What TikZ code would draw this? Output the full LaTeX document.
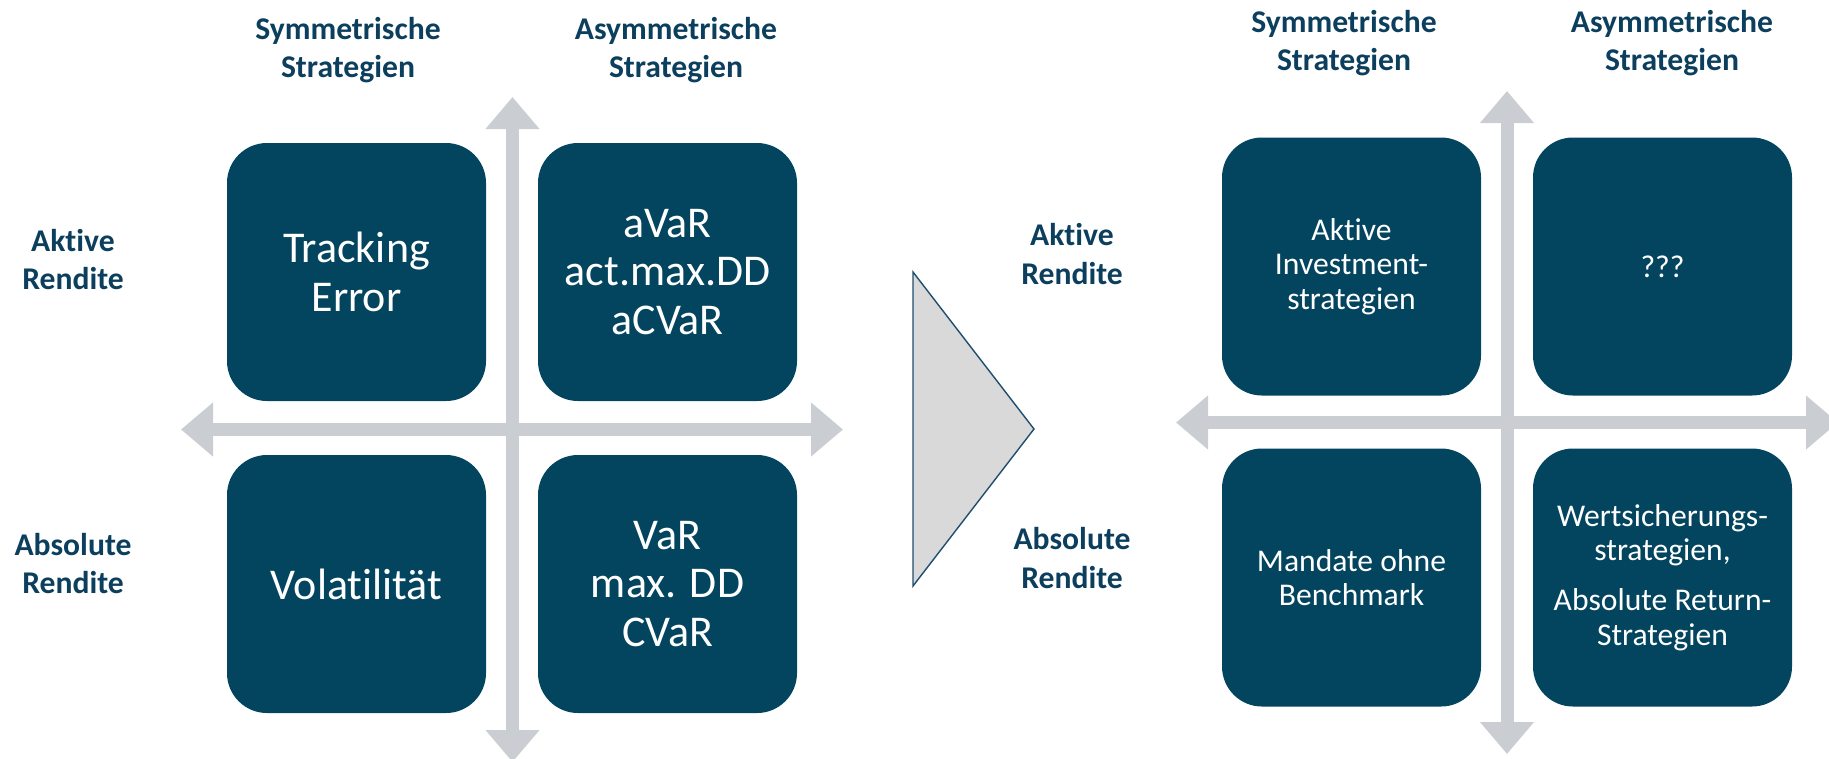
\documentclass[tikz,border=0pt]{standalone}
\usepackage{fontspec}
\setmainfont{Carlito}[RawFeature={-liga;-calt;-clig}]
\usetikzlibrary{arrows.meta}
\definecolor{boxblue}{HTML}{03445F}
\definecolor{labelblue}{HTML}{0C3F5D}
\definecolor{axisgray}{HTML}{CACDD2}
\definecolor{wedgegray}{HTML}{D9D9D9}
\definecolor{wedgeline}{HTML}{1F4E6E}
\tikzset{
  quad/.style={fill=boxblue, rounded corners=8mm, minimum width=51.8mm,
    minimum height=51.6mm, inner sep=0pt, text=white, align=center},
  bigtext/.style={font=\fontsize{25}{27.5}\selectfont},
  smalltext/.style={font=\fontsize{18}{19.5}\selectfont},
  heading/.style={text=labelblue, align=center, inner sep=0pt,
    font=\bfseries\fontsize{18}{22}\selectfont},
  axis/.style={draw=axisgray, line width=2.6mm,
    {Triangle[width=10.4mm,length=6.4mm]}-{Triangle[width=10.4mm,length=6.4mm]}},
}
\begin{document}
\begin{tikzpicture}[x=0.2mm, y=-0.2mm]
      \useasboundingbox (0,0) rectangle (1829,758);
      \path
        (512.5,97) coordinate (ln)
        (512.5,762) coordinate (ls)
        (181,429.5) coordinate (lw)
        (843,429.5) coordinate (le)
        (1507,91) coordinate (rn)
        (1507,754) coordinate (rs)
        (1176,422.5) coordinate (rw)
        (1838,422.5) coordinate (re);
      \begin{scope}[axis]
        \draw (lw) to (le);
        \draw (ln) to (ls);
        \draw (rw) to (re);
        \draw (rn) to (rs);
      \end{scope}
      \path
        (356.5,272) node[quad, bigtext] (te){Tracking\\Error}
        (667.5,272) node[quad, bigtext] (avar){aVaR\\act.max.DD\\aCVaR}
        (356.5,584) node[quad, bigtext] (vola){Volatilität}
        (667.5,584) node[quad, bigtext] (var){VaR\\max. DD\\CVaR}
        (348,50) node[heading] (lsym){Symmetrische\\Strategien}
        (676,50) node[heading] (lasym){Asymmetrische\\Strategien}
        (73,259.5) node[heading] (lakt){Aktive\\Rendite}
        (73,563.5) node[heading] (labs){Absolute\\Rendite};
      \draw[draw=wedgeline, fill=wedgegray, line width=0.8pt]
        (913,272) -- (1034,429) -- (913,586) -- cycle;
      \path
        (1351.5,266.5) node[quad, smalltext] (aktinv){Aktive\\Investment-\\strategien}
        (1662.5,266.5) node[quad, smalltext] (open){???}
        (1351.5,577.5) node[quad, smalltext] (mandat){Mandate ohne\\Benchmark}
        (1662.5,577.5) node[quad, smalltext] (wert){Wertsicherungs-\\strategien,\\[9pt]Absolute Return-\\Strategien}
        (1344,43) node[heading] (rsym){Symmetrische\\Strategien}
        (1672,43) node[heading] (rasym){Asymmetrische\\Strategien}
        (1072,254) node[heading] (rakt){Aktive\\Rendite}
        (1072,558) node[heading] (rabs){Absolute\\Rendite};
    \end{tikzpicture}
\end{document}
